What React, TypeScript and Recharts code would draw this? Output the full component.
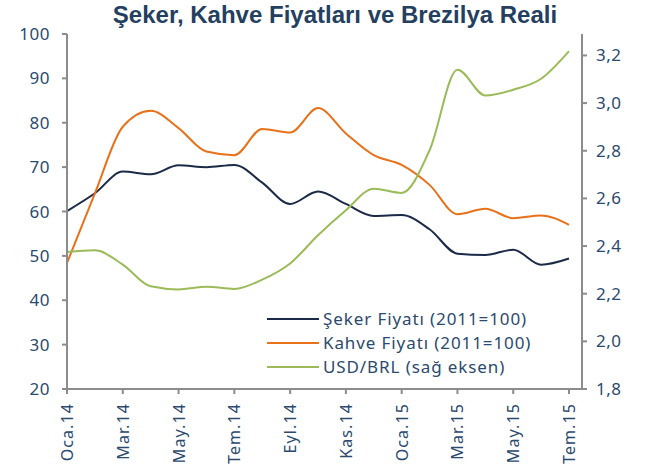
import * as React from 'react'
import { LineChart, Line, XAxis, YAxis } from 'recharts'

const months = [
  'Oca.14', 'Şub.14', 'Mar.14', 'Nis.14', 'May.14', 'Haz.14', 'Tem.14', 'Ağu.14', 'Eyl.14', 'Eki.14',
  'Kas.14', 'Ara.14', 'Oca.15', 'Şub.15', 'Mar.15', 'Nis.15', 'May.15', 'Haz.15', 'Tem.15',
]
const sugar = [60.1, 64.1, 69.0, 68.4, 70.4, 70.0, 70.5, 66.5, 61.7, 64.5, 61.7, 59.0, 59.2, 56.0, 50.5, 50.2, 51.4, 48.0, 49.4]
const coffee = [48.4, 64.1, 79.1, 82.7, 78.8, 73.5, 72.7, 78.6, 77.8, 83.3, 77.6, 72.7, 70.5, 66.0, 59.4, 60.6, 58.5, 59.1, 57.0]
const usdbrl = [2.375, 2.382, 2.322, 2.231, 2.218, 2.229, 2.22, 2.259, 2.327, 2.445, 2.55, 2.641, 2.623, 2.802, 3.14, 3.032, 3.056, 3.102, 3.218]

const leftTicks = [20, 30, 40, 50, 60, 70, 80, 90, 100]
const rightTicks = [1.8, 2.0, 2.2, 2.4, 2.6, 2.8, 3.0, 3.2]

const seriesNames = ['Şeker Fiyatı (2011=100)', 'Kahve Fiyatı (2011=100)', 'USD/BRL (sağ eksen)']
const colors = ['#1b2a47', '#e8711a', '#9bbb59']

const textColor = '#2b4a6e'
const axisColor = '#8c8c8c'
const font = '"Noto Sans", sans-serif'

const data = months.map((m, i) => ({ m, sugar: sugar[i], coffee: coffee[i], brl: usdbrl[i] }))

function XTick(props: any) {
  const { x, y, payload } = props
  return (
    <text
      x={0}
      y={0}
      transform={`translate(${x + 6},${y + 7}) rotate(-90)`}
      textAnchor="end"
      fill={textColor}
      fontSize={16}
      fontFamily={font}
      letterSpacing={1.1}
    >
      {payload.value}
    </text>
  )
}

// legend drawn as an overlay so it doesn't shrink the plot area
function LegendBox() {
  return (
    <div
      style={{
        position: 'absolute',
        left: 267,
        top: 307,
        fontFamily: font,
        fontSize: 17,
        letterSpacing: 0.9,
        color: textColor,
        lineHeight: '24px',
      }}
    >
      {seriesNames.map((n, i) => (
        <div key={n} style={{ display: 'flex', alignItems: 'center' }}>
          <span style={{ display: 'inline-block', width: 52, height: 2, background: colors[i], marginRight: 4 }} />
          <span>{n}</span>
        </div>
      ))}
    </div>
  )
}

export default function App() {
  return (
    <div style={{ position: 'absolute', left: 0, top: 0, width: 646, height: 470, background: '#fff' }}>
      <div
        style={{
          position: 'absolute',
          left: 0,
          width: 670,
          top: 1,
          textAlign: 'center',
          fontFamily: '"Liberation Sans Narrow", "Liberation Sans", sans-serif',
          fontWeight: 'bold',
          fontSize: 24,
          color: '#243f60',
        }}
      >
        Şeker, Kahve Fiyatları ve Brezilya Reali
      </div>
      <LineChart width={646} height={470} data={data} margin={{ top: 34, right: 0, left: 0, bottom: 0 }}>
        <XAxis
          dataKey="m"
          interval={1}
          height={81}
          padding={{ left: 0, right: 13 }}
          stroke={axisColor}
          strokeWidth={2}
          tickSize={5}
          tick={<XTick />}
        />
        <YAxis
          yAxisId="l"
          domain={[20, 100]}
          ticks={leftTicks}
          width={67}
          stroke={axisColor}
          strokeWidth={2}
          tickSize={5}
          tickMargin={12}
          tick={{ fill: textColor, fontSize: 17, fontFamily: font, letterSpacing: 0.5 }}
        />
        <YAxis
          yAxisId="r"
          orientation="right"
          domain={[1.8, 3.29]}
          ticks={rightTicks}
          width={64}
          stroke={axisColor}
          strokeWidth={2}
          tickSize={5}
          tickMargin={9}
          tickFormatter={(v: number) => v.toFixed(1).replace('.', ',')}
          tick={{ fill: textColor, fontSize: 17, fontFamily: font, textAnchor: 'start', letterSpacing: 0.5 }}
        />
        <Line yAxisId="l" dataKey="sugar" type="monotone" stroke={colors[0]} strokeWidth={2} dot={false} isAnimationActive={false} />
        <Line yAxisId="l" dataKey="coffee" type="monotone" stroke={colors[1]} strokeWidth={2} dot={false} isAnimationActive={false} />
        <Line yAxisId="r" dataKey="brl" type="monotone" stroke={colors[2]} strokeWidth={2} dot={false} isAnimationActive={false} />
      </LineChart>
      <LegendBox />
    </div>
  )
}
